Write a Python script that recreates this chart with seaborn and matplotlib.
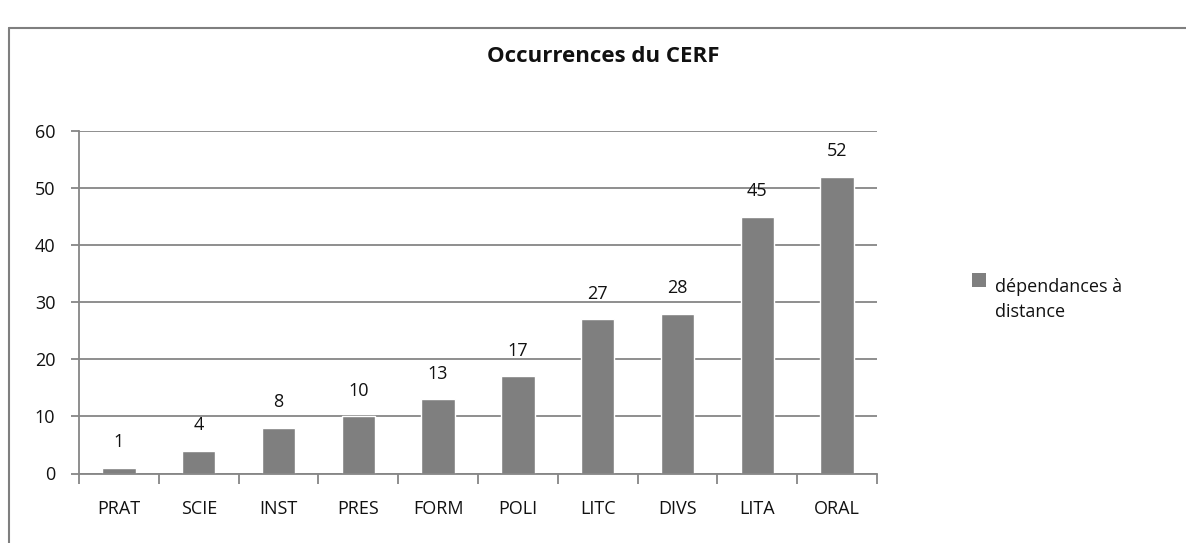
import matplotlib
matplotlib.use("Agg")
import matplotlib.pyplot as plt
import seaborn as sns
import pandas as pd
from matplotlib.patches import Patch, Rectangle
from matplotlib.legend_handler import HandlerPatch

categories = ["PRAT", "SCIE", "INST", "PRES", "FORM", "POLI", "LITC", "DIVS", "LITA", "ORAL"]
values = [1, 4, 8, 10, 13, 17, 27, 28, 45, 52]
series_name = "dépendances à distance"
title = "Occurrences du CERF"
yticks = [0, 10, 20, 30, 40, 50, 60]

sns.set_theme(style="white")
plt.rcParams["font.family"] = ["Open Sans", "DejaVu Sans"]

df = pd.DataFrame({"cat": categories, "val": values, "series": series_name})

fig = plt.figure(figsize=(11.86, 5.43), dpi=100)
ax = fig.add_axes([79 / 1186, 1 - 473.5 / 543, (877 - 79) / 1186, (473.5 - 131) / 543])

sns.barplot(data=df, x="cat", y="val", hue="series", palette=["#7f7f7f"],
            width=0.42, ax=ax, legend=False, saturation=1)

grid_c = "#868686"
txt_c = "#111111"
fs = 13
ax.set_ylim(0, 60)
ax.set_xlim(-0.5, len(categories) - 0.5)
ax.set_yticks(yticks)
ax.yaxis.grid(True, color=grid_c, linewidth=1.3)
ax.set_axisbelow(True)
for s in ["top", "right"]:
    ax.spines[s].set_visible(False)
for s in ["left", "bottom"]:
    ax.spines[s].set_color(grid_c)
    ax.spines[s].set_linewidth(1.3)

ax.set_xlabel("")
ax.set_ylabel("")
ax.tick_params(axis="y", which="major", length=6, width=1.3, color=grid_c,
               direction="out", left=True, pad=11, labelsize=fs, labelcolor=txt_c)
ax.set_xticks(range(len(categories)))
ax.set_xticklabels(categories)
ax.set_xticks([i - 0.5 for i in range(len(categories) + 1)], minor=True)
ax.tick_params(axis="x", which="major", length=0, pad=19, labelsize=fs, labelcolor=txt_c)
ax.tick_params(axis="x", which="minor", length=7, width=1.3, color=grid_c,
               direction="out", bottom=True)

for c in ax.containers:
    ax.bar_label(c, labels=[str(v) for v in values], padding=12, fontsize=fs, color=txt_c)

fig.text(603 / 1186, 1 - 56 / 543, title, ha="center", va="center",
         fontsize=16, fontweight="bold", color=txt_c)


def _square(legend, orig_handle, xdescent, ydescent, width, height, fontsize):
    return Rectangle((-xdescent, -ydescent + 14.5), width, height)


handle = Patch(facecolor="#7f7f7f", edgecolor="none")
leg = fig.legend([handle], ["dépendances à\ndistance"], loc="upper left",
                 bbox_to_anchor=(956 / 1186, 1 - 262 / 543), frameon=False,
                 fontsize=fs, handlelength=0.75, handleheight=0.75, handletextpad=0.5,
                 labelcolor=txt_c,
                 handler_map={Patch: HandlerPatch(patch_func=_square)})
for t in leg.get_texts():
    t.set_linespacing(1.45)

# outer chart frame (cropped at right and bottom)
fig.add_artist(plt.Line2D([9 / 1186, 1], [1 - 28 / 543, 1 - 28 / 543],
                          transform=fig.transFigure, color="#7f7f7f", linewidth=1.5))
fig.add_artist(plt.Line2D([9 / 1186, 9 / 1186], [0, 1 - 28 / 543],
                          transform=fig.transFigure, color="#7f7f7f", linewidth=1.5))

fig.savefig("out.png", dpi=100, facecolor="white")
